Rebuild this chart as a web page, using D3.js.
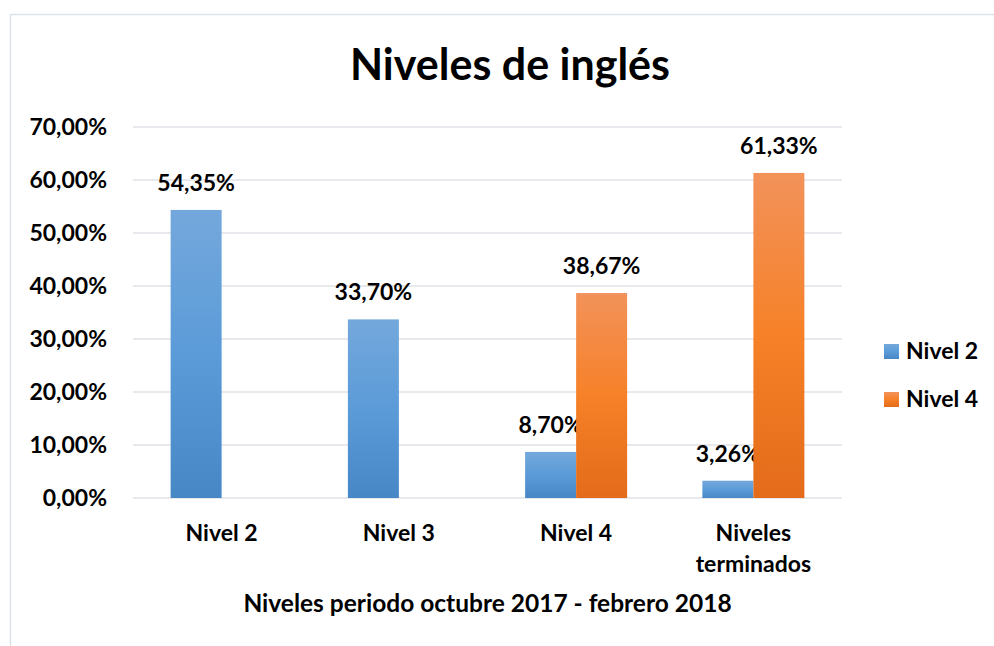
<!DOCTYPE html>
<html>
<head>
<meta charset="utf-8">
<script src="https://cdn.jsdelivr.net/npm/d3@7"></script>
<style>
  body { margin: 0; background: #fff; }
  text { font-family: Lato, "Open Sans", sans-serif; font-weight: bold; fill: #000; }
</style>
</head>
<body>
<svg width="994" height="646"></svg>
<script>
// data
let categories = ["Nivel 2", "Nivel 3", "Nivel 4", "Niveles terminados"];
let categoryLines = [["Nivel 2"], ["Nivel 3"], ["Nivel 4"], ["Niveles", "terminados"]];
let seriesNames = ["Nivel 2", "Nivel 4"];
let nivel2Values = [54.35, 33.70, 8.70, 3.26];
let nivel4Values = [null, null, 38.67, 61.33];
let yTicks = [0, 10, 20, 30, 40, 50, 60, 70];

let seriesValues = [nivel2Values, nivel4Values];
let gradients = [
    ["#74a8dc", "#5b9bd8", "#4787c6"],
    ["#f2925a", "#f68128", "#e36b1a"]
];

var svg = d3.select("svg"),
    width = +svg.attr("width"),
    height = +svg.attr("height");

var plot = {left: 133, right: 842, top: 127, bottom: 498};

// gradients for bars
var defs = svg.append("defs");
gradients.forEach(function(g, i){
    var lg = defs.append("linearGradient")
        .attr("id", "grad" + i)
        .attr("x1", 0).attr("y1", 0).attr("x2", 0).attr("y2", 1);
    lg.selectAll("stop")
        .data(g)
        .enter().append("stop")
        .attr("offset", function(d, j){ return (j / (g.length - 1) * 100) + "%"; })
        .attr("stop-color", function(d){ return d; });
});

// chart frame
svg.append("rect")
    .attr("x", 10.5).attr("y", 14.5)
    .attr("width", 1000).attr("height", 700)
    .attr("fill", "none")
    .attr("stroke", "#dde2ea")
    .attr("stroke-width", 1.5);

let x = d3.scaleBand()
    .domain(categories)
    .range([plot.left, plot.right])
    .paddingInner(0.4245)
    .paddingOuter(0.4245 / 2);

let xInner = d3.scaleBand()
    .domain(seriesNames)
    .range([0, x.bandwidth()]);

let y = d3.scaleLinear()
    .domain([0, 70])
    .range([plot.bottom, plot.top]);

// gridlines
svg.append("g")
    .attr("class", "grid")
    .selectAll("line")
    .data(yTicks)
    .enter().append("line")
    .attr("x1", plot.left).attr("x2", plot.right)
    .attr("y1", function(d){ return y(d); })
    .attr("y2", function(d){ return y(d); })
    .attr("stroke", "#dfe2e7")
    .attr("stroke-width", 1.5);

// y axis labels
var yAxis = svg.append("g")
    .attr("transform", "translate(" + plot.left + ",0)")
    .call(d3.axisLeft(y).tickValues(yTicks).tickSize(0).tickPadding(26)
        .tickFormat(function(d){ return d.toFixed(2).replace(".", ",") + "%"; }));
yAxis.select(".domain").remove();
yAxis.selectAll("text")
    .attr("font-size", 23)
    .attr("font-family", "Lato, sans-serif")
    .attr("font-weight", "bold")
    .attr("fill", "#000");

// bars
var groups = svg.append("g")
    .selectAll("g")
    .data(categories)
    .enter().append("g")
    .attr("transform", function(d){ return "translate(" + x(d) + ",0)"; });

var cells = groups.selectAll("g")
    .data(function(d, i){
        return seriesNames.map(function(s, k){ return {series: s, k: k, value: seriesValues[k][i]}; })
            .filter(function(c){ return c.value != null; });
    })
    .enter().append("g");

cells.append("rect")
    .attr("x", function(d){ return xInner(d.series); })
    .attr("width", xInner.bandwidth())
    .attr("y", function(d){ return y(d.value); })
    .attr("height", function(d){ return y(0) - y(d.value); })
    .attr("fill", function(d){ return "url(#grad" + d.k + ")"; });

cells.append("text")
    .attr("x", function(d){ return xInner(d.series) + xInner.bandwidth() / 2; })
    .attr("y", function(d){ return y(d.value) - 19; })
    .attr("text-anchor", "middle")
    .attr("font-size", 23)
    .text(function(d){ return d.value.toFixed(2).replace(".", ",") + "%"; });

// x axis labels
svg.append("g")
    .selectAll("text")
    .data(categories)
    .enter().append("text")
    .attr("y", 541)
    .attr("text-anchor", "middle")
    .attr("font-size", 23)
    .each(function(d, i){
        var t = d3.select(this);
        categoryLines[i].forEach(function(w, j){
            t.append("tspan")
                .attr("x", x(d) + x.bandwidth() / 2)
                .attr("dy", j === 0 ? 0 : 31)
                .text(w);
        });
    });

// axis title
svg.append("text")
    .attr("x", (plot.left + plot.right) / 2)
    .attr("y", 612)
    .attr("text-anchor", "middle")
    .attr("font-size", 24.5)
    .text("Niveles periodo octubre 2017 - febrero 2018");

// chart title
svg.append("text")
    .attr("x", 510)
    .attr("y", 80)
    .attr("text-anchor", "middle")
    .attr("font-size", 43)
    .text("Niveles de inglés");

// legend
var legend = svg.append("g")
    .selectAll("g")
    .data(seriesNames)
    .enter().append("g")
    .attr("transform", function(d, i){ return "translate(884," + (344 + i * 48) + ")"; });

legend.append("rect")
    .attr("width", 15).attr("height", 15)
    .attr("fill", function(d, i){ return "url(#grad" + i + ")"; });

legend.append("text")
    .attr("x", 22)
    .attr("y", 15)
    .attr("font-size", 23)
    .text(function(d){ return d; });
</script>
</body>
</html>
